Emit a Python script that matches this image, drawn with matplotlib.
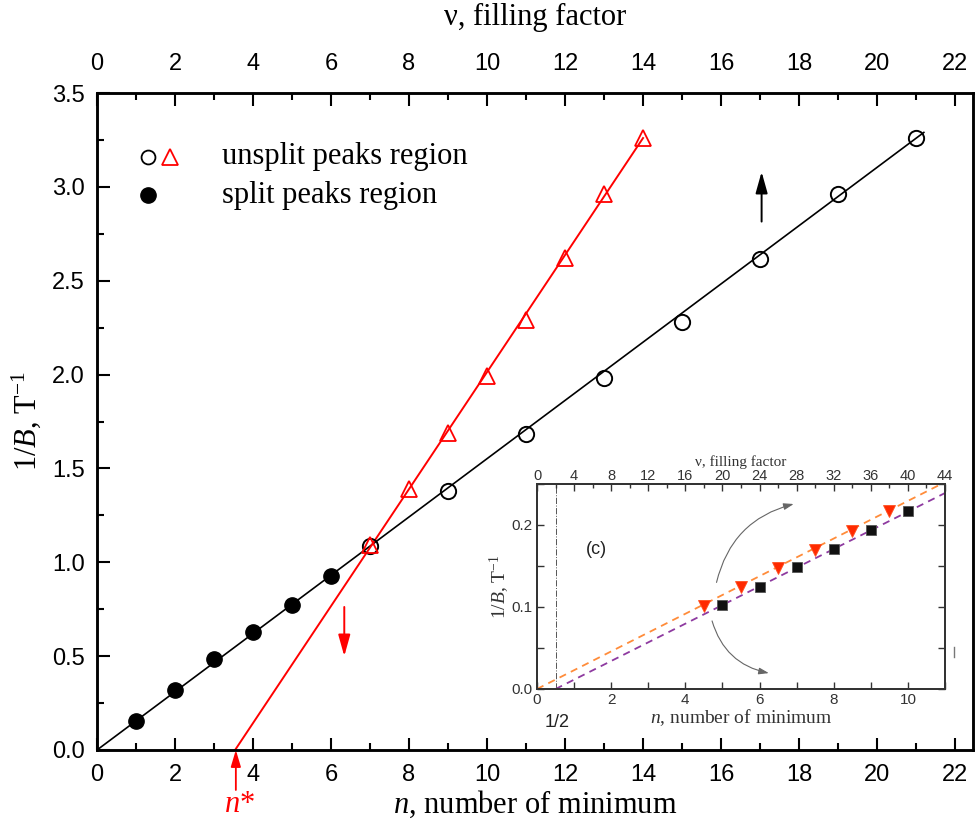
import matplotlib
matplotlib.use("Agg")
import matplotlib.pyplot as plt
from matplotlib.ticker import MultipleLocator, FormatStrFormatter
from matplotlib.lines import Line2D

# ---------------- data (main panel) ----------------
n_split = [1, 2, 3, 4, 5, 6]
y_split = [0.155, 0.32, 0.485, 0.63, 0.775, 0.925]

n_unsplit_c = [7, 9, 11, 13, 15, 17, 19, 21]
y_unsplit_c = [1.085, 1.38, 1.685, 1.98, 2.28, 2.615, 2.96, 3.26]

n_unsplit_t = [7, 8, 9, 10, 11, 12, 13, 14]
y_unsplit_t = [1.09, 1.39, 1.69, 1.99, 2.29, 2.62, 2.96, 3.26]

fit_black_n = [0, 21.2]
fit_black_y = [0, 3.29]
fit_red_n = [3.54, 14.0]
fit_red_y = [0, 3.26]

n_star = 3.56

# ---------------- data (inset) ----------------
in_n_tri = [4.5, 5.5, 6.5, 7.5, 8.5, 9.5]
in_y_tri = [0.101, 0.125, 0.148, 0.170, 0.193, 0.217]
in_n_sq = [5, 6, 7, 8, 9, 10]
in_y_sq = [0.102, 0.125, 0.149, 0.171, 0.194, 0.217]
in_fit_orange_n = [0, 10.9]
in_fit_orange_y = [0, 0.25]
in_fit_purple_n = [0.5, 11]
in_fit_purple_y = [0, 0.239]

plt.rcParams['mathtext.fontset'] = 'custom'
plt.rcParams['mathtext.rm'] = 'Liberation Serif'
plt.rcParams['mathtext.it'] = 'Liberation Serif:italic'
plt.rcParams['font.family'] = ['Liberation Sans', 'DejaVu Sans']

W, H = 976, 827
fig = plt.figure(figsize=(W / 100, H / 100), dpi=100)

def fx(px):
    return px / W

def fy(py):
    return 1 - py / H

ax = fig.add_axes([fx(97), fy(750), fx(973) - fx(97), fy(93) - fy(750)])
ax.set_xlim(0, 22.46)
ax.set_ylim(0, 3.5)

for s in ax.spines.values():
    s.set_linewidth(1.8)

ax.xaxis.set_major_locator(MultipleLocator(2))
ax.xaxis.set_minor_locator(MultipleLocator(1))
ax.yaxis.set_major_locator(MultipleLocator(0.5))
ax.yaxis.set_minor_locator(MultipleLocator(0.25))
ax.yaxis.set_major_formatter(FormatStrFormatter('%.1f'))
ax.tick_params(which='both', direction='in', top=False, right=False, width=1.5)
ax.tick_params(which='major', length=9, labelsize=17)
ax.tick_params(which='minor', length=5)
ax.tick_params(axis='x', pad=10)
ax.tick_params(axis='y', pad=9)

# top axis
axt = ax.twiny()
axt.set_xlim(ax.get_xlim())
axt.xaxis.set_major_locator(MultipleLocator(2))
axt.xaxis.set_minor_locator(MultipleLocator(1))
axt.tick_params(which='both', direction='in', width=1.5)
axt.tick_params(which='major', length=9, labelsize=17, pad=13)
axt.tick_params(which='minor', length=5)
for s in axt.spines.values():
    s.set_linewidth(1.8)

serif = 'Liberation Serif'
axt.set_xlabel('\u03bd, filling factor', fontsize=22, family=serif, labelpad=20)
ax.set_xlabel(r'$n$, number of minimum', fontsize=22, family=serif, labelpad=2)
ax.set_ylabel(r'1/$B$, T$^{\mathrm{-1}}$', fontsize=22, family=serif, labelpad=6)

# fits
ax.plot(fit_black_n, fit_black_y, color='black', lw=1.2, zorder=2)
ax.plot(fit_red_n, fit_red_y, color='#ff0000', lw=1.4, zorder=2)

# data
ax.plot(n_split, y_split, 'o', ms=11, color='black', zorder=3)
ax.plot(n_unsplit_c, y_unsplit_c, 'o', ms=11, mfc='none', mec='black', mew=1.4, zorder=3)
ax.plot(n_unsplit_t, y_unsplit_t, '^', ms=12, mfc='none', mec='#ff0000', mew=1.3, zorder=3)

# arrows
ax.annotate('', xy=(17.04, 3.08), xytext=(17.04, 2.815),
            arrowprops=dict(arrowstyle='-|>,head_length=1.0,head_width=0.28',
                            mutation_scale=13, color='black', lw=1.4,
                            shrinkA=0, shrinkB=0))
ax.annotate('', xy=(6.34, 0.50), xytext=(6.34, 0.762),
            arrowprops=dict(arrowstyle='-|>,head_length=1.0,head_width=0.28',
                            mutation_scale=13, color='#ff0000', lw=1.4,
                            shrinkA=0, shrinkB=0))
ax.annotate('', xy=(n_star, 0.0), xytext=(n_star, -0.213),
            arrowprops=dict(arrowstyle='-|>,head_length=1.0,head_width=0.3',
                            mutation_scale=10, color='#ff0000', lw=1.3,
                            shrinkA=0, shrinkB=0),
            annotation_clip=False)
ax.text(n_star + 0.1, -0.29, r'$n$*', color='#ff0000', fontsize=22,
        family=serif, ha='center', va='center', clip_on=False)

# legend (manual)
ax.plot([0.0582], [0.9026], 'o', ms=10, mfc='none', mec='black', mew=1.3,
        transform=ax.transAxes, clip_on=False)
ax.plot([0.0833], [0.9026], '^', ms=12, mfc='none', mec='#ff0000', mew=1.3,
        transform=ax.transAxes, clip_on=False)
ax.plot([0.0582], [0.8447], 'o', ms=11, color='black',
        transform=ax.transAxes, clip_on=False)
ax.text(0.1427, 0.9026, 'unsplit peaks region', transform=ax.transAxes,
        fontsize=22, family=serif, va='center', ha='left')
ax.text(0.1427, 0.8447, 'split peaks region', transform=ax.transAxes,
        fontsize=22, family=serif, va='center', ha='left')

# ---------------- inset ----------------
gray = '#333333'
ins = fig.add_axes([fx(537), fy(689), fx(945) - fx(537), fy(484) - fy(689)])
ins.set_xlim(0, 11)
ins.set_ylim(0, 0.25)
for s in ins.spines.values():
    s.set_linewidth(1.3)
    s.set_color(gray)
ins.xaxis.set_major_locator(MultipleLocator(2))
ins.xaxis.set_minor_locator(MultipleLocator(1))
ins.yaxis.set_major_locator(MultipleLocator(0.1))
ins.yaxis.set_minor_locator(MultipleLocator(0.05))
ins.yaxis.set_major_formatter(FormatStrFormatter('%.1f'))
ins.tick_params(which='both', direction='in', right=True, width=1.0, color=gray,
                labelcolor=gray, labelsize=11)
ins.tick_params(which='major', length=5, pad=3)
ins.tick_params(which='minor', length=5)

inst = ins.twiny()
inst.set_xlim(0, 44)
inst.xaxis.set_major_locator(MultipleLocator(4))
inst.xaxis.set_minor_locator(MultipleLocator(2))
inst.tick_params(which='both', direction='in', width=1.0, color=gray,
                 labelcolor=gray, labelsize=10.5, pad=1)
inst.tick_params(which='major', length=5)
inst.tick_params(which='minor', length=3)
for s in inst.spines.values():
    s.set_linewidth(1.3)
    s.set_color(gray)
inst.set_xlabel('\u03bd, filling factor', fontsize=11, family=serif, color=gray, labelpad=2)
ins.set_xlabel(r'$n$, number of minimum', fontsize=14, family=serif, color=gray, labelpad=0)
ins.set_ylabel(r'1/$B$, T$^{\mathrm{-1}}$', fontsize=14, family=serif, color=gray, labelpad=0)

ins.axvline(0.5, color='#555555', lw=0.7, ls='-.')
ins.plot(in_fit_orange_n, in_fit_orange_y, '--', color='#ff8c3a', lw=1.3, dashes=(4, 3))
ins.plot(in_fit_purple_n, in_fit_purple_y, '--', color='#8e3aa0', lw=1.3, dashes=(4, 3))
ins.plot(in_n_tri, in_y_tri, 'v', ms=9, mfc='#ff2a00', mec='#ff5020', mew=0.6)
ins.plot(in_n_sq, in_y_sq, 's', ms=6.5, mfc='#111111', mec='#555555', mew=0.6)

ins.text(1.6, 0.17, '(c)', fontsize=13, color='#222222', ha='center', va='center')
ins.text(0.55, -0.03, '1/2', fontsize=13, color='#222222', ha='center', va='top',
         clip_on=False)

ins.annotate('', xy=(6.92, 0.2256), xytext=(4.84, 0.130),
             arrowprops=dict(arrowstyle='-|>,head_length=0.6,head_width=0.2',
                             mutation_scale=10, color='#666666', lw=0.8,
                             connectionstyle='arc3,rad=-0.3', shrinkA=0, shrinkB=0))
ins.annotate('', xy=(6.25, 0.0194), xytext=(4.72, 0.083),
             arrowprops=dict(arrowstyle='-|>,head_length=0.6,head_width=0.2',
                             mutation_scale=10, color='#666666', lw=0.8,
                             connectionstyle='arc3,rad=0.3', shrinkA=0, shrinkB=0))

# small stray mark on the inset picture
fig.add_artist(Line2D([fx(954), fx(954)], [fy(647), fy(657)], color='#777777', lw=1.0))

fig.savefig('out.png', dpi=100)
